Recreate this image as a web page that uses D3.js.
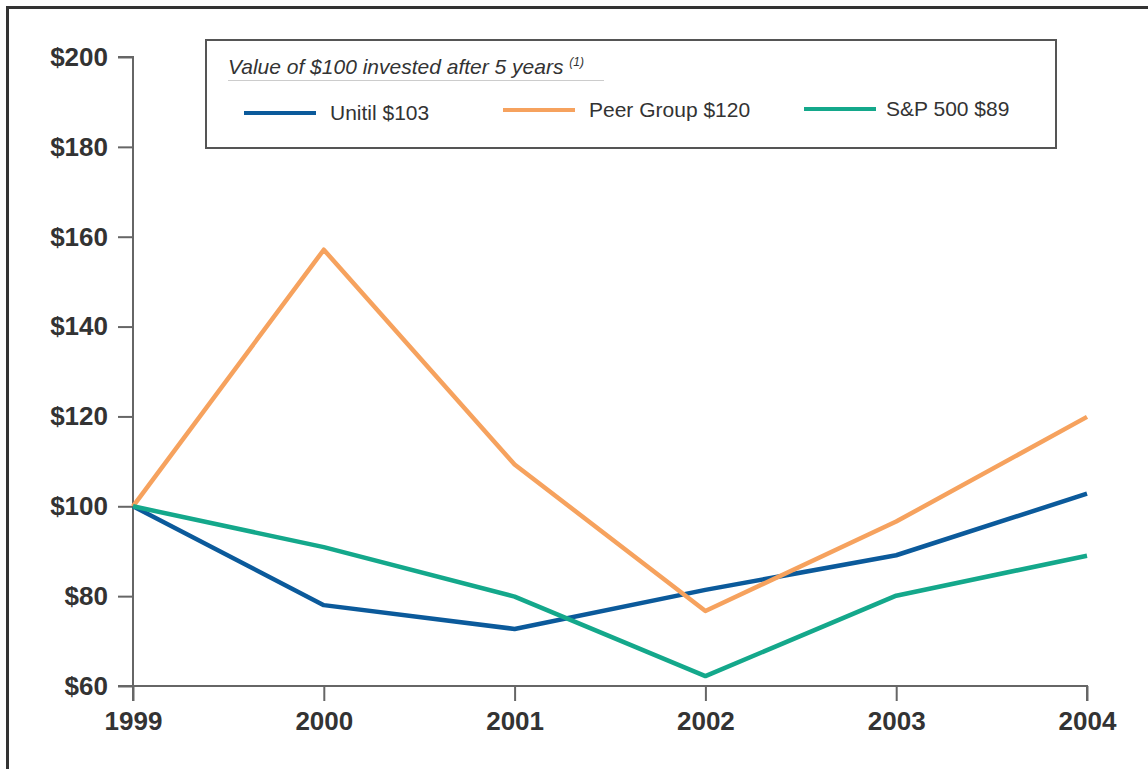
<!doctype html>
<html lang="en">
<head>
<meta charset="utf-8">
<title>Value of $100 invested</title>
<style>
  body { margin: 0; background: #fff; }
  svg text { font-family: "Liberation Sans", Arial, Helvetica, sans-serif; fill: #333; }
</style>
<script src="https://d3js.org/d3.v7.min.js"></script>
</head>
<body>
<div id="chart"></div>
<script>
  // data
  var years = [1999, 2000, 2001, 2002, 2003, 2004];
  var unitil = [100, 78, 72.7, 81.4, 89.1, 102.8];
  var peerGroup = [100, 157.1, 109.3, 76.7, 96.6, 119.9];
  var sp500 = [100, 90.9, 79.9, 62.2, 80.1, 89];
  var yTicks = [60, 80, 100, 120, 140, 160, 180, 200];
  var seriesNames = ["Unitil $103", "Peer Group $120", "S&P 500 $89"];
  var seriesColors = ["#0b5a9b", "#f6a25e", "#14a88b"];

  var W = 1148, H = 769;
  var margin = {top: 57, right: 61, bottom: 83, left: 133},
      width = W - margin.left - margin.right,
      height = H - margin.top - margin.bottom;

  var svg = d3.select("#chart").append("svg")
    .attr("width", W)
    .attr("height", H);

  // dark frame on top and left
  svg.append("path")
    .attr("d", "M7.5,769 V7.5 H1148")
    .attr("fill", "none")
    .attr("stroke", "#333")
    .attr("stroke-width", 3);

  var g = svg.append("g")
    .attr("transform", "translate(" + margin.left + "," + margin.top + ")");

  var x = d3.scaleLinear().domain([1999, 2004]).range([0, width]);
  var y = d3.scaleLinear().domain([60, 200]).range([height, 0]);

  var yAxis = d3.axisLeft(y).tickValues(yTicks)
    .tickSize(15).tickPadding(10)
    .tickFormat(function(d) { return "$" + d; });
  var xAxis = d3.axisBottom(x).tickValues(years)
    .tickSize(15).tickPadding(11)
    .tickFormat(d3.format("d"));

  var ya = g.append("g").call(yAxis);
  var xa = g.append("g").attr("transform", "translate(0," + height + ")").call(xAxis);

  [ya, xa].forEach(function(a) {
    a.selectAll("path, line").attr("stroke", "#666").attr("stroke-width", 2);
    a.selectAll("text")
      .attr("fill", "#333")
      .style("font-family", "'Liberation Sans', Arial, sans-serif")
      .style("font-size", "26px")
      .style("font-weight", "bold");
  });
  ya.select(".domain").attr("d", "M-15,0 H0 V" + height + " H-15");
  xa.select(".domain").attr("d", "M0,15 V0 H" + width + " V15");

  var line = d3.line()
    .x(function(d, i) { return x(years[i]); })
    .y(function(d) { return y(d); });

  [unitil, peerGroup, sp500].forEach(function(s, i) {
    g.append("path")
      .datum(s)
      .attr("fill", "none")
      .attr("stroke", seriesColors[i])
      .attr("stroke-width", 4.5)
      .attr("stroke-linejoin", "round")
      .attr("d", line);
  });

  // legend box
  var legend = svg.append("g");
  legend.append("rect")
    .attr("x", 206).attr("y", 40)
    .attr("width", 850).attr("height", 108)
    .attr("fill", "#fff")
    .attr("stroke", "#555")
    .attr("stroke-width", 2);

  var title = legend.append("text")
    .attr("x", 228).attr("y", 74)
    .style("font-size", "21px")
    .style("font-style", "italic")
    .text("Value of $100 invested after 5 years ");
  title.append("tspan")
    .attr("dy", -8)
    .style("font-size", "12px")
    .text("(1)");

  legend.append("line")
    .attr("x1", 228).attr("x2", 604)
    .attr("y1", 80.5).attr("y2", 80.5)
    .attr("stroke", "#ccc")
    .attr("stroke-width", 1);

  var legX = [244, 503, 804];
  var legY = [113, 110, 109];
  seriesNames.forEach(function(name, i) {
    legend.append("line")
      .attr("x1", legX[i]).attr("x2", legX[i] + 72)
      .attr("y1", legY[i]).attr("y2", legY[i])
      .attr("stroke", seriesColors[i])
      .attr("stroke-width", 4);
    legend.append("text")
      .attr("x", legX[i] + (i == 2 ? 82 : 86))
      .attr("y", legY[i] + 7)
      .style("font-size", "21px")
      .text(name);
  });
</script>
</body>
</html>
